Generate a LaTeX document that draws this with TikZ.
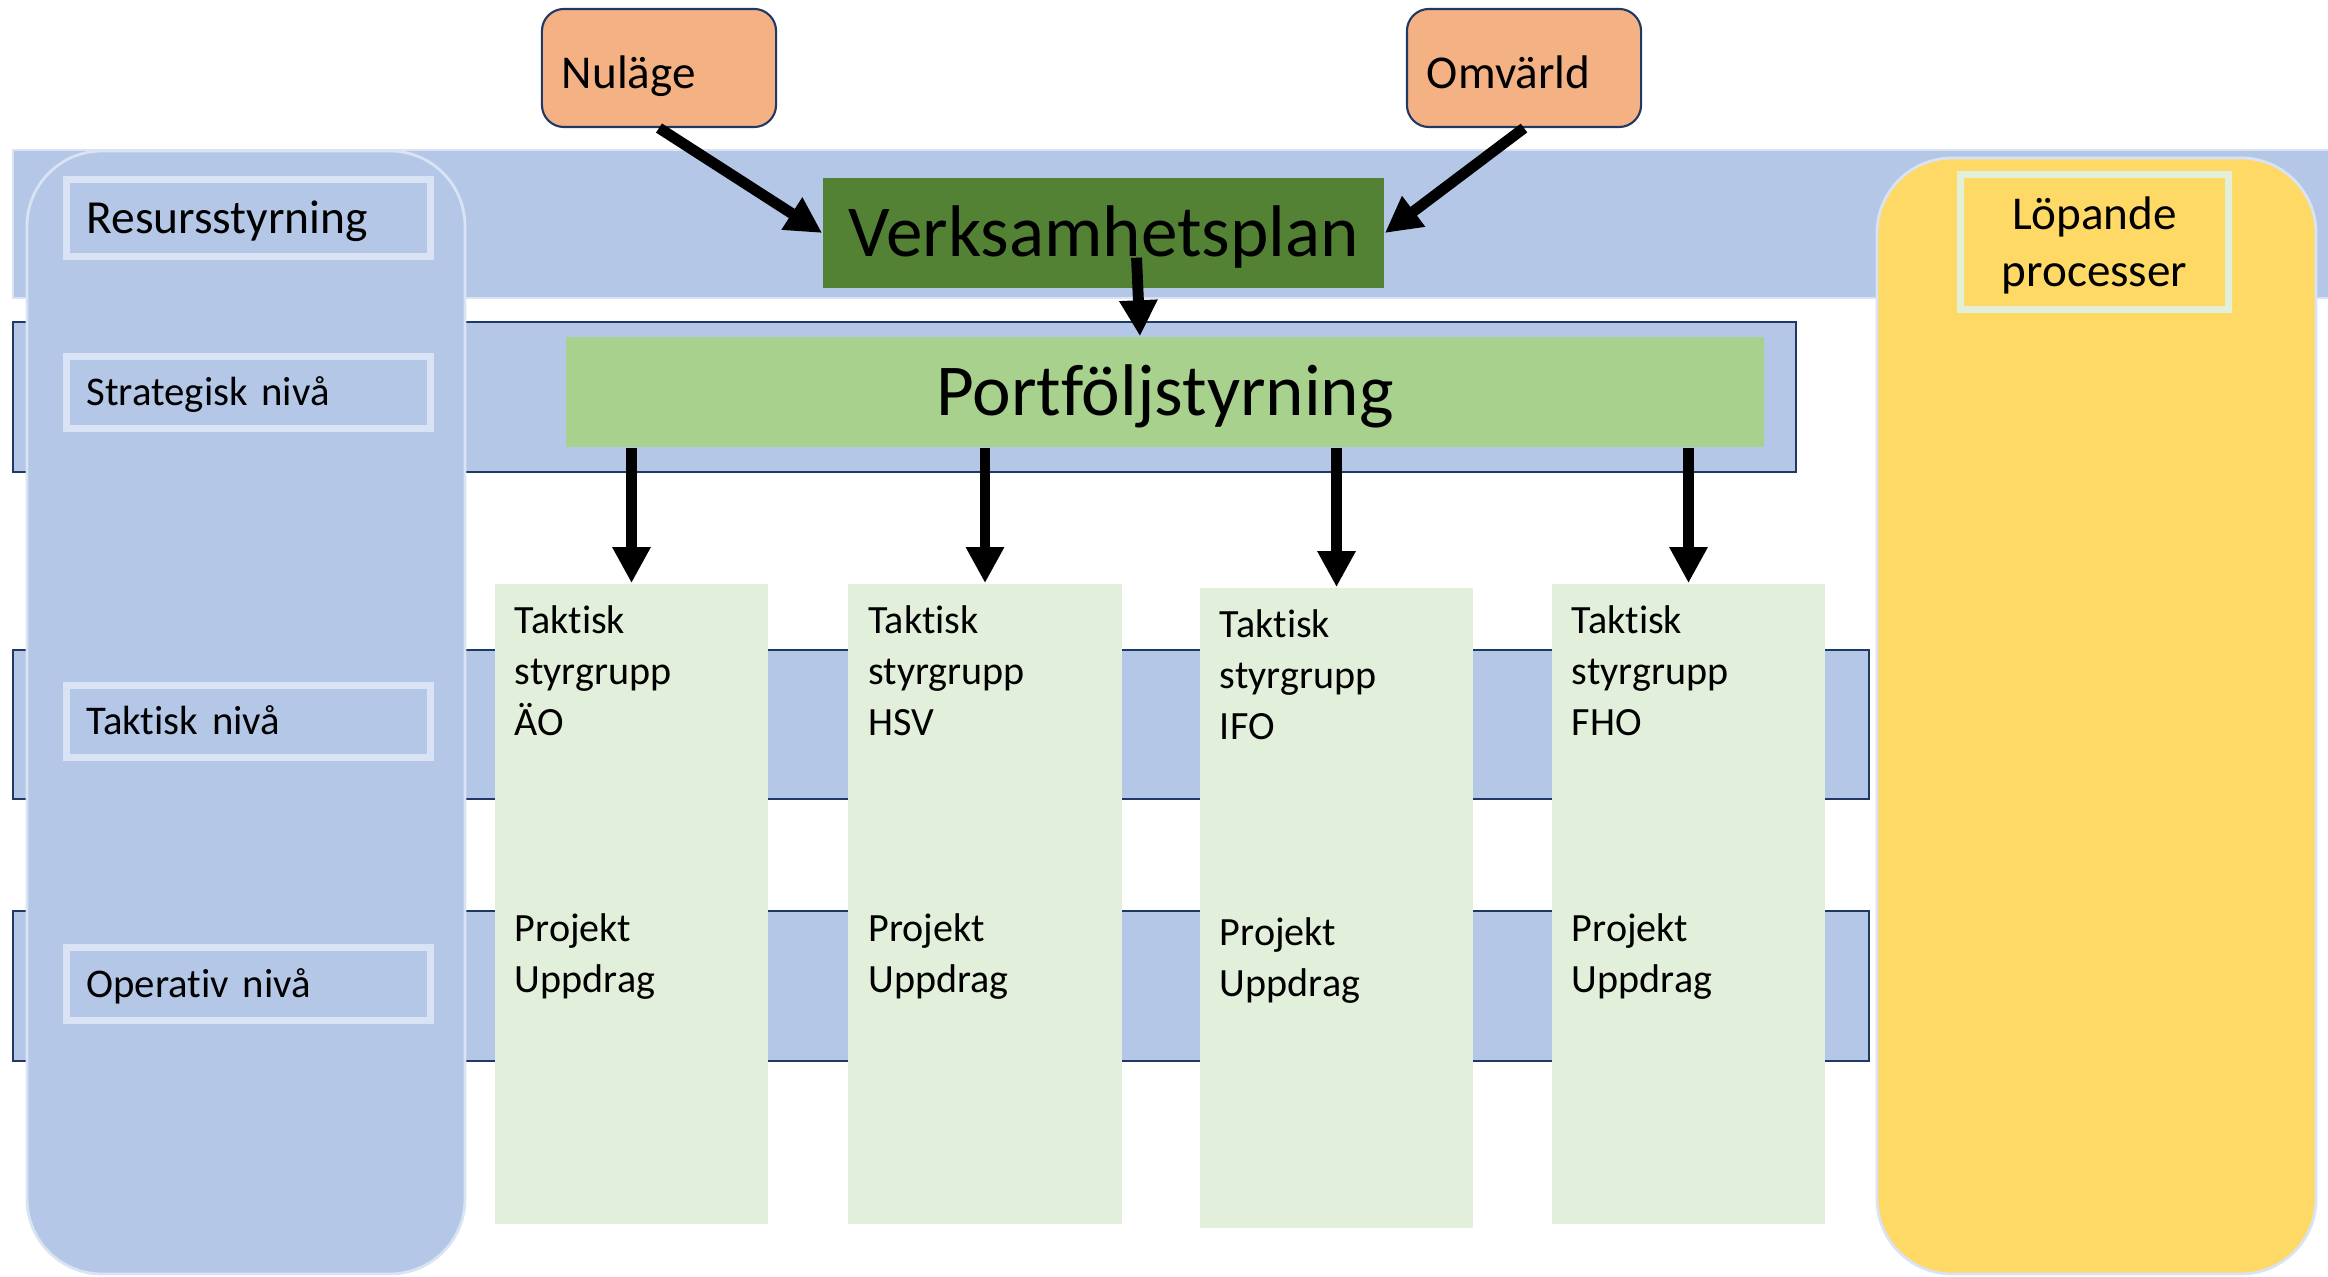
\documentclass[tikz,border=0pt]{standalone}
\usepackage{fontspec}
\setmainfont{Carlito}[Ligatures=NoCommon]
\usepackage{tikz}
\usetikzlibrary{arrows.meta}

\definecolor{bandblue}{HTML}{B4C7E7}
\definecolor{navy}{HTML}{203864}
\definecolor{paleblue}{HTML}{DAE3F3}
\definecolor{planGreen}{HTML}{548235}
\definecolor{portGreen}{HTML}{A9D18E}
\definecolor{groupGreen}{HTML}{E2EFDA}
\definecolor{inOrange}{HTML}{F4B183}
\definecolor{procYellow}{HTML}{FFD966}
\definecolor{procLine}{HTML}{E2F0D9}

\tikzstyle{band} = [fill=bandblue, draw=navy, line width=0.7pt]
\tikzstyle{topband} = [fill=bandblue, draw=paleblue, line width=0.8pt]
\tikzstyle{sidebar} = [draw=paleblue, line width=0.8pt, rounded corners=0.75cm]
\tikzstyle{levelbox} = [rectangle, draw=paleblue, line width=2pt, fill=bandblue, minimum height=0.72cm, text width=3.24cm, inner xsep=0.2cm, align=left, text height=7.5pt, text depth=0pt, font=\fontsize{11.6}{14}\selectfont]
\tikzstyle{planbox} = [rectangle, minimum width=5.61cm, minimum height=1.1cm, fill=planGreen, text height=13.4pt, text depth=0pt, font=\fontsize{20.8}{25}\selectfont]
\tikzstyle{portbox} = [rectangle, minimum width=11.98cm, minimum height=1.1cm, fill=portGreen, text height=13.4pt, text depth=0pt, font=\fontsize{20.8}{25}\selectfont]
\tikzstyle{groupbox} = [rectangle, minimum width=2.73cm, minimum height=6.4cm, fill=groupGreen]
\tikzstyle{grouptext} = [anchor=north west, inner sep=0pt, align=left, xshift=0.2cm, yshift=-0.22cm, font=\fontsize{11.4}{14.5}\selectfont]
\tikzstyle{inbox} = [rectangle, rounded corners=0.22cm, draw=navy, line width=0.6pt, fill=inOrange, minimum height=1.18cm, text width=1.94cm, inner xsep=0.2cm, align=left, text height=0.5cm, text depth=0.08cm, font=\fontsize{13.4}{16}\selectfont]
\tikzstyle{procbox} = [rectangle, draw=procLine, line width=2pt, minimum width=2.68cm, minimum height=1.35cm, align=center, text depth=0pt, font=\fontsize{13.4}{16.2}\selectfont]
\tikzstyle{arrow} = [line width=3.1pt,-{Triangle[length=0.36cm,width=0.36cm]}]

\begin{document}
\begin{tikzpicture}[x=0.01cm, y=-0.01cm]
	\useasboundingbox (0,0) rectangle (2328,1277);

	\draw [topband] (13,150) rectangle (2345,298);
	\draw [band] (13,322) rectangle (1796,472);
	\draw [band] (13,650) rectangle (1869,799);
	\draw [band] (13,911) rectangle (1869,1061);
	\draw [sidebar, fill=bandblue] (27,151) rectangle (465,1274);
	\draw [sidebar, fill=procYellow] (1877,158) rectangle (2316,1274);

	\node (res) [levelbox, minimum height=0.77cm, text height=8.7pt, font=\fontsize{13.5}{16}\selectfont] at (248.5,218) {Resursstyrning};
	\node (strat) [levelbox] at (248.5,392.5) {Strategisk nivå};
	\node (takt) [levelbox] at (248.5,721.5) {Taktisk nivå};
	\node (oper) [levelbox] at (248.5,984) {Operativ nivå};

	\node (plan) [planbox] at (1103.5,233) {Verksamhetsplan};
	\node (port) [portbox] at (1165,392) {Portföljstyrning};

	\node (grp1) [groupbox] at (631.5,904) {};
	\node (grp2) [groupbox] at (985,904) {};
	\node (grp3) [groupbox] at (1336.5,908) {};
	\node (grp4) [groupbox] at (1688.5,904) {};

	\node (txt1) [grouptext] at (grp1.north west) {Taktisk\\styrgrupp\\ÄO\\[1.55cm]Projekt\\Uppdrag};
	\node (txt2) [grouptext] at (grp2.north west) {Taktisk\\styrgrupp\\HSV\\[1.55cm]Projekt\\Uppdrag};
	\node (txt3) [grouptext] at (grp3.north west) {Taktisk\\styrgrupp\\IFO\\[1.55cm]Projekt\\Uppdrag};
	\node (txt4) [grouptext] at (grp4.north west) {Taktisk\\styrgrupp\\FHO\\[1.55cm]Projekt\\Uppdrag};

	\node (nul) [inbox] at (659,68) {Nuläge};
	\node (omv) [inbox] at (1524,68) {Omvärld};
	\node (proc) [procbox] at (2094.5,242) {Löpande\\processer};

	\draw [arrow] (nul.south) -- (plan.west);
	\draw [arrow] (omv.south) -- (plan.east);
	\draw [arrow] ([xshift=0.33cm,yshift=0.31cm]plan.south) -- ([xshift=-0.25cm]port.north);
	\draw [arrow] (port.south -| grp1.north) -- (grp1.north);
	\draw [arrow] (port.south -| grp2.north) -- (grp2.north);
	\draw [arrow] (port.south -| grp3.north) -- (grp3.north);
	\draw [arrow] (port.south -| grp4.north) -- (grp4.north);
\end{tikzpicture}
\end{document}
